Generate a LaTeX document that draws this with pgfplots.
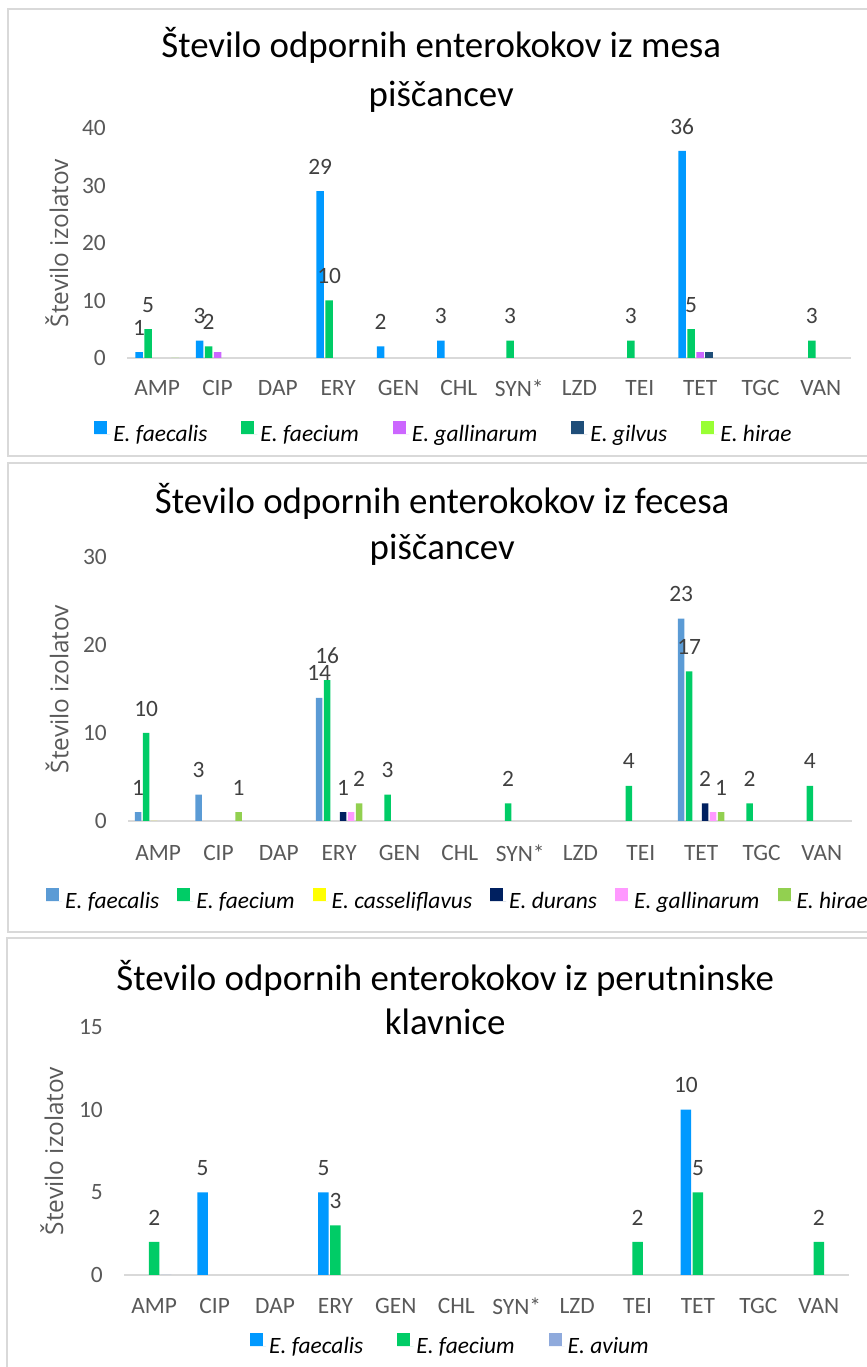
\documentclass[border=0pt]{standalone}
\usepackage{pgfplots}
\pgfplotsset{compat=1.18}
\usepackage{fontspec}
\setmainfont{Carlito}
\newfontfamily\labfont{Open Sans}

\definecolor{gridgray}{HTML}{D9D9D9}
\definecolor{ticktext}{HTML}{595959}
\definecolor{labeltext}{HTML}{404040}
\definecolor{faA}{HTML}{0099FF}
\definecolor{fm}{HTML}{00CC66}
\definecolor{galA}{HTML}{CC66FF}
\definecolor{gil}{HTML}{1F4E79}
\definecolor{hirA}{HTML}{99FF33}
\definecolor{faB}{HTML}{5B9BD5}
\definecolor{cas}{HTML}{FFFF00}
\definecolor{dur}{HTML}{002060}
\definecolor{galB}{HTML}{FF99FF}
\definecolor{hirB}{HTML}{92D050}
\definecolor{avi}{HTML}{8FAADC}

\pgfplotsset{
  mybase/.style={
    scale only axis,
    xmin=-0.5, xmax=11.5, ymin=0,
    enlargelimits=false,
    clip=false,
    axis x line*=bottom, axis y line*=left,
    separate axis lines,
    x axis line style={draw=gridgray, line width=1.5bp, -},
    y axis line style={draw=none, -},
    major tick length=0pt,
    tick style={draw=none},
    xtick={0,...,11},
    xticklabels={AMP,CIP,DAP,ERY,GEN,CHL,SYN*,LZD,TEI,TET,TGC,VAN},
    ticklabel style={font=\fontsize{23.5}{28}\selectfont, text=ticktext},
    xticklabel style={anchor=center, inner sep=0pt, yshift=-30bp},
    yticklabel style={anchor=east, inner sep=0pt, xshift=-21bp},
    /pgf/number format/assume math mode=true,
    ylabel={Število izolatov},
    ylabel style={font=\labfont\fontsize{24.5}{28}\selectfont, text=ticktext, anchor=center},
    title style={font=\fontsize{37}{49}\selectfont, align=center, anchor=center, text=black},
    ybar,
    every node near coord/.append style={font=\fontsize{23.5}{28}\selectfont, text=labeltext, anchor=center, yshift=24.5bp},
    legend style={draw=none, fill=none, anchor=center, inner sep=0pt,
      font=\fontsize{23.5}{28}\selectfont\itshape,
      nodes={inner xsep=3bp, inner ysep=0pt},
      column sep=0pt,
      /tikz/every even column/.append style={column sep=31bp}},
  },
  bar/.style={fill=#1, draw=none,
    legend image code/.code={\path (0bp,0bp) -- (16bp,0bp);
      \fill[fill=#1, draw=none] (0bp,0bp) rectangle (13bp,13bp);}},
}

\begin{document}
\begin{tikzpicture}
\useasboundingbox (0,0) rectangle (867bp,1367bp);
\clip (0,0) rectangle (867bp,1367bp);
% panel frames
\draw[gridgray, line width=1.5bp] (8bp,911bp) rectangle (880bp,1358bp);
\draw[gridgray, line width=1.5bp] (8bp,435bp) rectangle (880bp,904bp);
\draw[gridgray, line width=1.5bp] (7bp,-10bp) rectangle (880bp,429bp);

% ---------------- Panel 1 ----------------
\begin{axis}[mybase,
  at={(127bp,1009bp)}, anchor=south west,
  width=724bp, height=230bp,
  ymax=40, ytick={0,10,20,30,40},
  bar width=7.5bp, ybar=1.5bp,
  title={Število odpornih enterokokov iz mesa\\piščancev},
  title style={at={(0.434,1)}, yshift=52.5bp},
  ylabel style={at={(axis description cs:-0.0967,0.5)}},
  legend columns=5,
  legend style={at={(0.4385,0)}, yshift=-74bp},
]
\addplot[bar=faA, nodes near coords] coordinates {(0,1) (1,3) (3,29) (4,2) (5,3) (9,36)};
\addplot[bar=fm, nodes near coords] coordinates {(0,5) (1,2) (3,10) (6,3) (8,3) (9,5) (11,3)};
\addplot[bar=galA] coordinates {(1,1) (9,1)};
\addplot[bar=gil] coordinates {(9,1)};
\addplot[bar=hirA] coordinates {(0,0)};
\legend{E. faecalis, E. faecium, E. gallinarum, E. gilvus, E. hirae}
\end{axis}

% ---------------- Panel 2 ----------------
\begin{axis}[mybase,
  at={(128bp,546bp)}, anchor=south west,
  width=724bp, height=264bp,
  ymax=30, ytick={0,10,20,30},
  bar width=6.5bp, ybar=1.5bp,
  xticklabel style={yshift=-2bp},
  title={Število odpornih enterokokov iz fecesa\\piščancev},
  title style={at={(0.434,1)}, yshift=27bp, font=\fontsize{37}{46}\selectfont},
  ylabel style={at={(axis description cs:-0.098,0.5)}},
  legend columns=6,
  legend style={at={(0.4565,0)}, yshift=-78bp,
    /tikz/every even column/.append style={column sep=15bp}},
]
\addplot[bar=faB, nodes near coords] coordinates {(0,1) (1,3) (3,14) (9,23)};
\addplot[bar=fm, nodes near coords] coordinates {(0,10) (3,16) (4,3) (6,2) (8,4) (9,17) (10,2) (11,4)};
\addplot[bar=cas] coordinates {(0,0)};
\addplot[bar=dur, nodes near coords] coordinates {(3,1) (9,2)};
\addplot[bar=galB] coordinates {(3,1) (9,1)};
\addplot[bar=hirB, nodes near coords] coordinates {(1,1) (3,2) (9,1)};
\legend{E. faecalis, E. faecium, E. casseliflavus, E. durans, E. gallinarum, E. hirae}
\end{axis}

% ---------------- Panel 3 ----------------
\begin{axis}[mybase,
  at={(124bp,92bp)}, anchor=south west,
  width=725bp, height=248bp,
  ymax=15, ytick={0,5,10,15},
  bar width=10.5bp, ybar=1.5bp,
  xticklabel style={yshift=-1bp},
  title={Število odpornih enterokokov iz perutninske\\klavnice},
  title style={at={(0.443,1)}, yshift=23.5bp, font=\fontsize{37}{45}\selectfont},
  ylabel style={at={(axis description cs:-0.0993,0.5)}},
  legend columns=3,
  legend style={at={(0.451,0)}, yshift=-69bp},
]
\addplot[bar=faA, nodes near coords] coordinates {(1,5) (3,5) (9,10)};
\addplot[bar=fm, nodes near coords] coordinates {(0,2) (3,3) (8,2) (9,5) (11,2)};
\addplot[bar=avi] coordinates {(0,0)};
\legend{E. faecalis, E. faecium, E. avium}
\end{axis}
\end{tikzpicture}
\end{document}
